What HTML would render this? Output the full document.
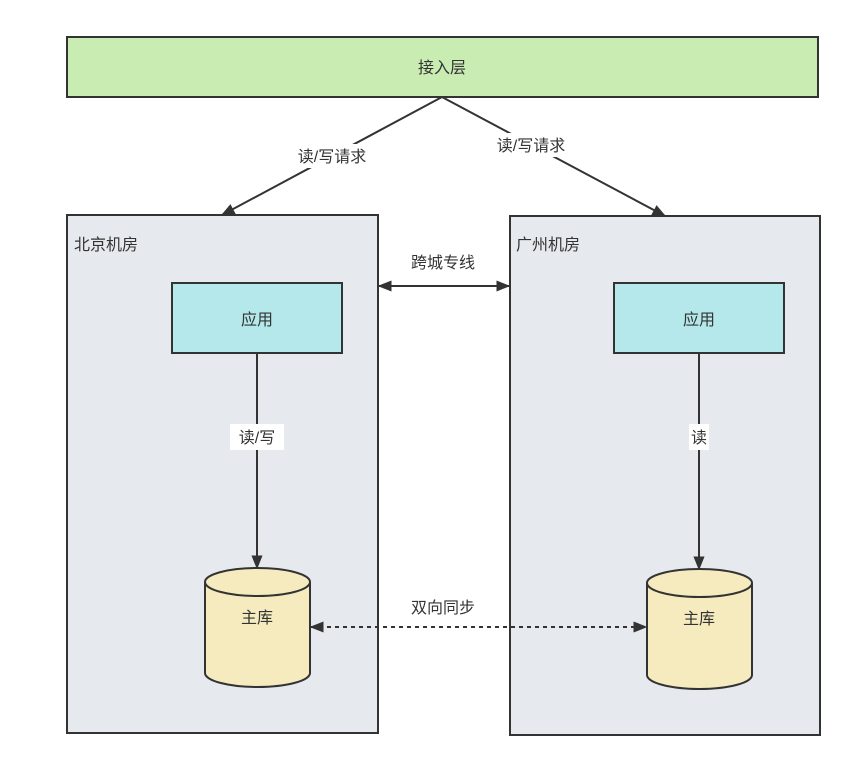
<!DOCTYPE html>
<html><head><meta charset="utf-8"><style>
body{margin:0;background:#fff;}
svg text{font-family:"Liberation Sans","Noto Sans CJK SC",sans-serif;font-size:16px;fill:#333;}
</style></head><body>
<svg width="858" height="772" viewBox="0 0 858 772" xmlns="http://www.w3.org/2000/svg">
<defs>
<marker id="a" viewBox="0 0 10 10" refX="9" refY="5" markerWidth="9" markerHeight="9" orient="auto-start-reverse" markerUnits="userSpaceOnUse"><path d="M0,0 L10,5 L0,10 z" fill="#333"/></marker>
<marker id="b" viewBox="0 0 10 10" refX="9" refY="5" markerWidth="14" markerHeight="14" orient="auto-start-reverse" markerUnits="userSpaceOnUse"><path d="M0,1 L10,5 L0,9 z" fill="#333"/></marker>
</defs>
<rect x="67" y="37" width="751" height="60" fill="#c9ecb3" stroke="#333" stroke-width="2"/>
<text x="442" y="73" text-anchor="middle">接入层</text>
<rect x="67" y="215" width="311" height="518" fill="#e6e9ed" stroke="#333" stroke-width="2"/>
<rect x="510" y="216" width="310" height="519" fill="#e6e9ed" stroke="#333" stroke-width="2"/>
<text x="74" y="250">北京机房</text>
<text x="516" y="250">广州机房</text>
<line x1="442" y1="97" x2="222" y2="215" stroke="#333" stroke-width="2" marker-end="url(#b)"/>
<line x1="442" y1="97" x2="665" y2="216" stroke="#333" stroke-width="2" marker-end="url(#b)"/>
<rect x="290" y="144" width="84" height="24" fill="#fff"/>
<text x="332" y="162" text-anchor="middle">读/写请求</text>
<rect x="487" y="133" width="88" height="24" fill="#fff"/>
<text x="531" y="151" text-anchor="middle">读/写请求</text>
<line x1="379" y1="286" x2="509" y2="286" stroke="#333" stroke-width="2" marker-start="url(#b)" marker-end="url(#b)"/>
<text x="443" y="268" text-anchor="middle">跨城专线</text>
<rect x="172" y="283" width="170" height="70" fill="#b4e8ea" stroke="#333" stroke-width="2"/>
<text x="257" y="325" text-anchor="middle">应用</text>
<rect x="614" y="283" width="170" height="70" fill="#b4e8ea" stroke="#333" stroke-width="2"/>
<text x="699" y="325" text-anchor="middle">应用</text>
<line x1="257" y1="353" x2="257" y2="568" stroke="#333" stroke-width="2" marker-end="url(#b)"/>
<rect x="230" y="424" width="54" height="26" fill="#fff"/>
<text x="257" y="443" text-anchor="middle">读/写</text>
<line x1="699" y1="353" x2="699" y2="569" stroke="#333" stroke-width="2" marker-end="url(#b)"/>
<rect x="689" y="424" width="20" height="26" fill="#fff"/>
<text x="699" y="443" text-anchor="middle">读</text>
<g stroke="#333" stroke-width="2" fill="#f5ebbf">
<path d="M205,582 L205,673 A52.5,14 0 0 0 310,673 L310,582 A52.5,14 0 0 0 205,582 z"/>
<path d="M205,582 A52.5,14 0 0 0 310,582" fill="none"/>
<path d="M647,583 L647,675 A52.5,14 0 0 0 752,675 L752,583 A52.5,14 0 0 0 647,583 z"/>
<path d="M647,583 A52.5,14 0 0 0 752,583" fill="none"/>
</g>
<text x="257" y="623" text-anchor="middle">主库</text>
<text x="699" y="624" text-anchor="middle">主库</text>
<line x1="311" y1="627" x2="646" y2="627" stroke="#333" stroke-width="2" stroke-dasharray="4 4" marker-start="url(#b)" marker-end="url(#b)"/>
<text x="443" y="613" text-anchor="middle">双向同步</text>
</svg>
</body></html>
